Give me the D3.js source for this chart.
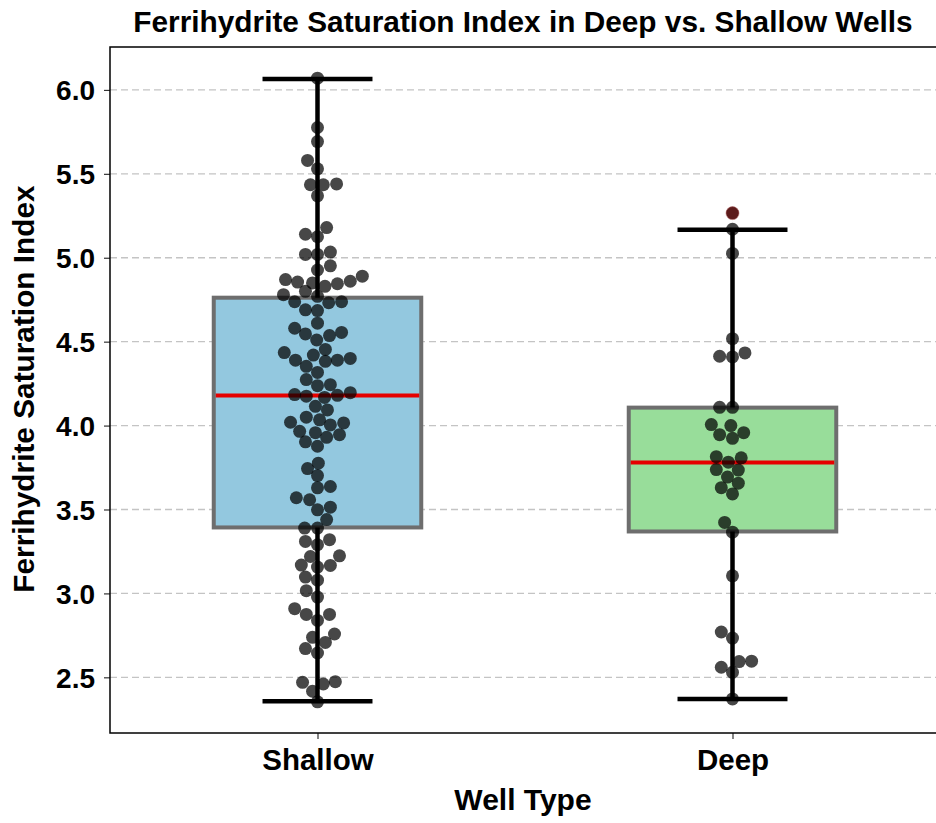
<!DOCTYPE html>
<html><head><meta charset="utf-8">
<script src="https://cdn.jsdelivr.net/npm/d3@7"></script>
<style>body{margin:0;background:#fff}svg{display:block}text{font-family:"Liberation Sans",Arial,sans-serif;font-weight:bold;fill:#000}</style>
</head><body><svg id="c" width="936" height="823"></svg>
<script>
const categories = ["Shallow", "Deep"];
const boxColors = ["#93c8df", "#98dd9a"];
// box statistics: [lowWhisker, q1, median, q3, highWhisker]
const shallowStats = [2.357, 3.393, 4.179, 4.762, 6.065];
const deepStats = [2.371, 3.369, 3.780, 4.107, 5.167];
const deepOutliers = [5.266];
// observed points (values) and their horizontal jitter in category units
const shallowValues = [6.07,5.776,5.692,5.58,5.53,5.435,5.435,5.44,5.369,5.18,5.14,5.125,5.034,5.02,5.02,4.952,4.927,
 4.87,4.855,4.85,4.83,4.845,4.86,4.89,4.78,4.80,4.77,4.738,4.732,4.738,4.69,4.685,4.61,4.58,4.546,4.51,4.536,4.555,
 4.454,4.435,4.42,4.39,4.383,4.39,4.40,4.353,4.317,4.274,4.238,4.244,4.185,4.175,4.168,4.18,4.196,4.115,4.093,
 4.05,4.034,4.02,4.016,4.004,3.966,3.958,3.946,3.93,3.903,3.877,3.776,3.744,3.702,3.629,3.637,3.570,3.558,3.498,
 3.514,3.44,3.389,3.389,3.31,3.29,3.32,3.22,3.224,3.169,3.157,3.167,3.097,3.079,3.016,2.978,2.909,2.875,2.875,
 2.839,2.758,2.738,2.708,2.671,2.645,2.47,2.46,2.474,2.417,2.354];
const shallowJitter = [0,0,0,-0.024,0,-0.017,0.014,0.046,0,0.022,-0.029,0,0.031,-0.029,0,0.031,0,
 -0.077,-0.048,-0.012,0.018,0.048,0.079,0.108,-0.082,-0.029,0,-0.055,0.027,0.058,-0.029,0,0,-0.055,-0.029,-0.002,0.029,0.058,
 0.019,-0.080,-0.010,-0.053,0.019,0.048,0.079,-0.027,0,-0.027,0,0.031,-0.055,-0.027,0.017,0.048,0.079,-0.005,0.024,
 -0.027,0.005,-0.065,0.063,0.031,-0.043,-0.005,0.053,0.022,-0.029,0,0.002,-0.024,0,0,0.031,-0.051,-0.019,0,
 0.031,0.022,-0.031,0,-0.029,0,0.029,-0.017,0.053,-0.039,0,0.031,-0.029,0,-0.027,0,-0.055,-0.027,0.029,
 0,0.041,-0.012,0.019,-0.029,0,-0.036,0.014,0.043,-0.012,0];
const deepValues = [5.17,5.026,4.518,4.413,4.409,4.433,4.109,4.109,4.006,4.0,3.946,3.958,3.924,3.815,3.808,3.782,
 3.738,3.735,3.693,3.657,3.63,3.593,3.423,3.365,3.105,2.77,2.734,2.594,2.596,2.56,2.53,2.371];
const deepJitter = [0,0,0,-0.031,0,0.030,-0.031,0,-0.051,-0.004,-0.031,0.027,0,-0.039,0.021,-0.010,
 -0.039,0.014,-0.012,0.014,-0.027,0,-0.019,0,0,-0.027,0,0.016,0.046,-0.027,0,0];
const yTicks = [2.5,3.0,3.5,4.0,4.5,5.0,5.5,6.0];

const groups = [
  {name: categories[0], stats: shallowStats, values: shallowValues, jitter: shallowJitter, outliers: [], color: boxColors[0]},
  {name: categories[1], stats: deepStats, values: deepValues, jitter: deepJitter, outliers: deepOutliers, color: boxColors[1]}
];

const svg = d3.select("#c");
const m = {left: 110, right: 940, top: 47, bottom: 733};
const allVals = shallowValues.concat(deepValues, deepOutliers);
const lo = d3.min(allVals), hi = d3.max(allVals), pad = (hi - lo) * 0.05;
const y = d3.scaleLinear().domain([lo - pad, hi + pad]).range([m.bottom, m.top]);
const x = d3.scalePoint().domain(categories).range([m.left, m.right]).padding(0.5);
const step = x.step();
const boxW = step * 0.5, capW = step * 0.265;

// grid
svg.append("g").selectAll("line").data(yTicks).join("line")
  .attr("x1", m.left).attr("x2", m.right).attr("y1", d => y(d)).attr("y2", d => y(d))
  .attr("stroke", "#c4c4c4").attr("stroke-width", 1.3).attr("stroke-dasharray", "7,4");

// boxes
const g = svg.append("g").selectAll("g").data(groups).join("g");
g.append("rect")
  .attr("x", d => x(d.name) - boxW / 2).attr("width", boxW)
  .attr("y", d => y(d.stats[3])).attr("height", d => y(d.stats[1]) - y(d.stats[3]))
  .attr("fill", d => d.color).attr("stroke", "#6e6e6e").attr("stroke-width", 4);
g.append("line")
  .attr("x1", d => x(d.name) - boxW / 2 + 2).attr("x2", d => x(d.name) + boxW / 2 - 2)
  .attr("y1", d => y(d.stats[2])).attr("y2", d => y(d.stats[2]))
  .attr("stroke", "#e60000").attr("stroke-width", 4);
// whiskers
g.append("line").attr("x1", d => x(d.name)).attr("x2", d => x(d.name))
  .attr("y1", d => y(d.stats[3])).attr("y2", d => y(d.stats[4]))
  .attr("stroke", "#000").attr("stroke-width", 4.5);
g.append("line").attr("x1", d => x(d.name)).attr("x2", d => x(d.name))
  .attr("y1", d => y(d.stats[1])).attr("y2", d => y(d.stats[0]))
  .attr("stroke", "#000").attr("stroke-width", 4.5);
g.append("line").attr("x1", d => x(d.name) - capW / 2).attr("x2", d => x(d.name) + capW / 2)
  .attr("y1", d => y(d.stats[4])).attr("y2", d => y(d.stats[4]))
  .attr("stroke", "#000").attr("stroke-width", 4.5);
g.append("line").attr("x1", d => x(d.name) - capW / 2).attr("x2", d => x(d.name) + capW / 2)
  .attr("y1", d => y(d.stats[0])).attr("y2", d => y(d.stats[0]))
  .attr("stroke", "#000").attr("stroke-width", 4.5);
// strip points
g.selectAll("circle.pt").data(d => d.values.map((v, i) => ({name: d.name, v, j: d.jitter[i] || 0}))).join("circle")
  .attr("class", "pt").attr("cx", d => x(d.name) + d.j * step).attr("cy", d => y(d.v)).attr("r", 6.5)
  .attr("fill", "#000").attr("fill-opacity", 0.72);
// outliers (flier marker with overlaid point)
g.selectAll("circle.out").data(d => d.outliers.map(v => ({name: d.name, v}))).join("circle")
  .attr("class", "out").attr("cx", d => x(d.name)).attr("cy", d => y(d.v)).attr("r", 6.5)
  .attr("fill", "#5c1b1b").attr("stroke", "#b06060").attr("stroke-opacity", 0.5).attr("stroke-width", 1);

// axes
const ya = svg.append("g").attr("transform", `translate(${m.left},0)`)
  .call(d3.axisLeft(y).tickValues(yTicks).tickFormat(d3.format(".1f")).tickSize(6).tickPadding(9));
ya.select(".domain").remove();
ya.selectAll("text").style("font-size", "28px").attr("dy", "0.35em");
ya.selectAll(".tick line").attr("stroke", "#333").attr("stroke-width", 1.2);
const xa = svg.append("g").attr("transform", `translate(0,${m.bottom})`)
  .call(d3.axisBottom(x).tickSize(6).tickPadding(10));
xa.select(".domain").remove();
xa.selectAll("text").style("font-size", "29.5px").attr("dy", "0.71em");
xa.selectAll(".tick line").attr("stroke", "#333").attr("stroke-width", 1.2);

// spines
svg.append("rect").attr("x", m.left).attr("y", m.top).attr("width", m.right - m.left).attr("height", m.bottom - m.top)
  .attr("fill", "none").attr("stroke", "#000").attr("stroke-width", 1.5);

// titles
svg.append("text").attr("x", (m.left + 936) / 2).attr("y", 32).attr("text-anchor", "middle")
  .style("font-size", "29.8px").text("Ferrihydrite Saturation Index in Deep vs. Shallow Wells");
svg.append("text").attr("x", (m.left + m.right) / 2 - 2).attr("y", 810).attr("text-anchor", "middle")
  .style("font-size", "30px").text("Well Type");
svg.append("text").attr("transform", `translate(34,${(m.top + m.bottom) / 2 - 1}) rotate(-90)`).attr("text-anchor", "middle")
  .style("font-size", "29.8px").text("Ferrihydrite Saturation Index");
</script></body></html>
